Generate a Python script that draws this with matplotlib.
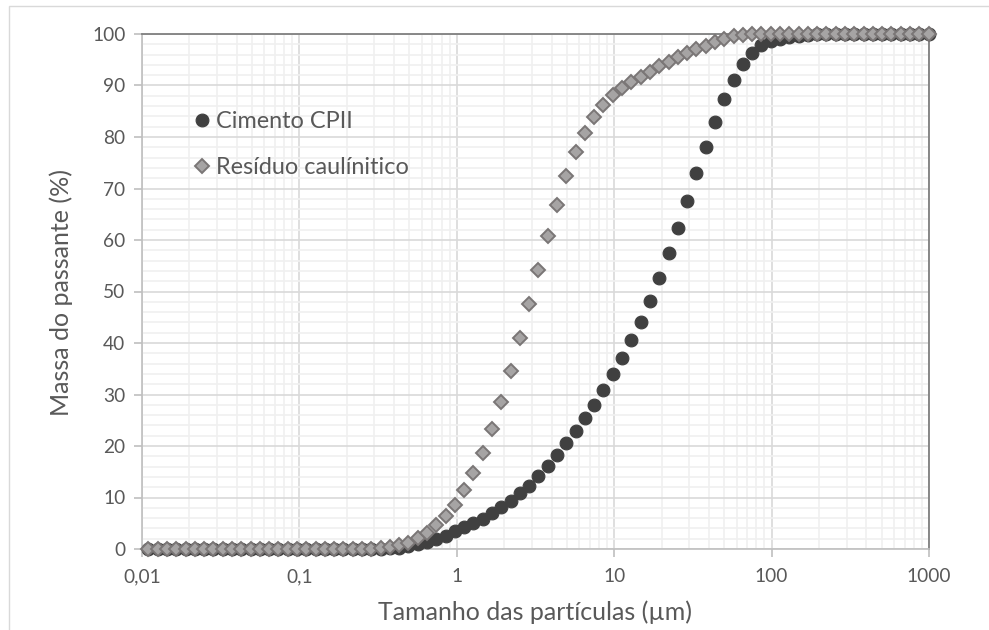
import matplotlib
matplotlib.use("Agg")
import matplotlib.pyplot as plt
from matplotlib.ticker import FixedLocator, FixedFormatter, NullFormatter, MultipleLocator
from matplotlib.patches import Rectangle

plt.rcParams['font.family'] = ['Lato', 'DejaVu Sans']

# particle size (µm)
particle_size = [
    0.01099, 0.01259, 0.01442, 0.01652, 0.01892, 0.02168, 0.02483, 0.02844, 0.03258, 0.03733,
    0.04276, 0.04898, 0.05610, 0.06427, 0.07362, 0.08433, 0.09661, 0.1107, 0.1268, 0.1452,
    0.1663, 0.1905, 0.2183, 0.2500, 0.2864, 0.3281, 0.3758, 0.4305, 0.4932, 0.5649,
    0.6471, 0.7413, 0.8492, 0.9727, 1.114, 1.276, 1.462, 1.675, 1.919, 2.198,
    2.518, 2.884, 3.304, 3.784, 4.335, 4.966, 5.689, 6.516, 7.464, 8.551,
    9.795, 11.22, 12.85, 14.72, 16.87, 19.32, 22.13, 25.35, 29.04, 33.27,
    38.11, 43.65, 50.00, 57.28, 65.61, 75.16, 86.10, 98.63, 113.0, 129.4,
    148.3, 169.8, 194.5, 222.8, 255.3, 292.4, 335.0, 383.7, 439.5, 503.5,
    576.8, 660.7, 756.8, 867.0, 993.1,
]

cimento_cpii = [
    0, 0, 0, 0, 0, 0, 0, 0, 0, 0,
    0, 0, 0, 0, 0, 0, 0, 0, 0, 0,
    0, 0, 0, 0, 0, 0.0, 0.1, 0.25, 0.5, 0.9,
    1.4, 2.0, 2.6, 3.4, 4.2, 5.0, 5.9, 6.9, 8.1, 9.3,
    10.8, 12.3, 14.1, 16.1, 18.2, 20.5, 22.9, 25.4, 28.0, 30.8,
    33.9, 37.0, 40.5, 44.1, 48.2, 52.6, 57.4, 62.4, 67.6, 73.0,
    78.0, 83.0, 87.3, 91.1, 94.1, 96.4, 97.8, 98.6, 99.1, 99.5,
    99.7, 99.85, 99.95, 100, 100, 100, 100, 100, 100, 100,
    100, 100, 100, 100, 100,
]

residuo_caulinitico = [
    0, 0, 0, 0, 0, 0, 0, 0, 0, 0,
    0, 0, 0, 0, 0, 0, 0, 0, 0, 0,
    0, 0, 0, 0, 0, 0.15, 0.45, 0.8, 1.2, 2.1,
    3.2, 4.7, 6.5, 8.5, 11.4, 14.7, 18.7, 23.3, 28.6, 34.6,
    40.9, 47.6, 54.2, 60.8, 66.8, 72.4, 77.0, 80.7, 83.8, 86.2,
    88.2, 89.5, 90.7, 91.7, 92.7, 93.7, 94.6, 95.5, 96.3, 97.0,
    97.7, 98.4, 99.1, 99.6, 99.85, 99.95, 100, 100, 100, 100,
    100, 100, 100, 100, 100, 100, 100, 100, 100, 100,
    100, 100, 100, 100, 100,
]

x_ticks = [0.01, 0.1, 1, 10, 100, 1000]
x_tick_labels = ["0,01", "0,1", "1", "10", "100", "1000"]
y_ticks = [0, 10, 20, 30, 40, 50, 60, 70, 80, 90, 100]

series_names = ["Cimento CPII", "Resíduo caulínitico"]

W, H = 989, 630
fig = plt.figure(figsize=(W / 100, H / 100), dpi=100)
fig.patch.set_facecolor("white")

# outer chart border
fig.add_artist(Rectangle((9 / W, -0.05), 1.2, (H - 6) / H + 0.05, transform=fig.transFigure,
                         fill=False, edgecolor="#d9d9d9", linewidth=1.0))

ax = fig.add_axes([142 / W, 1 - 549 / H, (929 - 142) / W, (549 - 34) / H])
ax.set_xscale("log")
ax.set_xlim(0.01, 1000)
ax.set_ylim(0, 100)

# grid
ax.xaxis.set_major_locator(FixedLocator(x_ticks))
ax.xaxis.set_major_formatter(FixedFormatter(x_tick_labels))
minor_x = [m * 10.0 ** e for e in range(-2, 3) for m in range(2, 10)]
ax.xaxis.set_minor_locator(FixedLocator(minor_x))
ax.xaxis.set_minor_formatter(NullFormatter())
ax.yaxis.set_major_locator(FixedLocator(y_ticks))
ax.yaxis.set_minor_locator(MultipleLocator(2))

ax.grid(which="minor", color="#f0f0f0", linewidth=1.2)
ax.grid(which="major", color="#d9d9d9", linewidth=1.2)
ax.set_axisbelow(True)

for s in ["left", "bottom"]:
    ax.spines[s].set_color("#bfbfbf")
    ax.spines[s].set_linewidth(1.2)
for s in ["top", "right"]:
    ax.spines[s].set_color("#7f7f7f")
    ax.spines[s].set_linewidth(1.3)

ax.tick_params(axis="both", which="major", length=6, width=1.2, color="#bfbfbf",
               labelsize=13.8, labelcolor="#595959")
ax.tick_params(axis="both", which="minor", length=0)
ax.tick_params(axis="x", pad=8)
ax.tick_params(axis="y", pad=6)

ax.plot(particle_size, cimento_cpii, linestyle="none", marker="o", markersize=9.2,
        markerfacecolor="#404040", markeredgecolor="#404040", markeredgewidth=0.8,
        label=series_names[0], zorder=3, clip_on=False)
ax.plot(particle_size, residuo_caulinitico, linestyle="none", marker="D", markersize=7,
        markerfacecolor="#a6a4a4", markeredgecolor="#7a7676", markeredgewidth=1.4,
        label=series_names[1], zorder=4, clip_on=False)

fig.text(535 / W, 1 - 612 / H, "Tamanho das partículas (µm)", fontsize=18, color="#595959",
         ha="center", va="center")
fig.text(61 / W, 1 - 292 / H, "Massa do passante (%)", fontsize=18, color="#595959",
         ha="center", va="center", rotation=90)

leg = ax.legend(loc="upper left", bbox_to_anchor=(195 / W, 1 - 111 / H),
                bbox_transform=fig.transFigure, frameon=False, fontsize=16.9,
                handlelength=0.6, handletextpad=0.3, labelspacing=1.08,
                borderpad=0, borderaxespad=0)
for t in leg.get_texts():
    t.set_color("#595959")

fig.savefig("out.png", dpi=100)
